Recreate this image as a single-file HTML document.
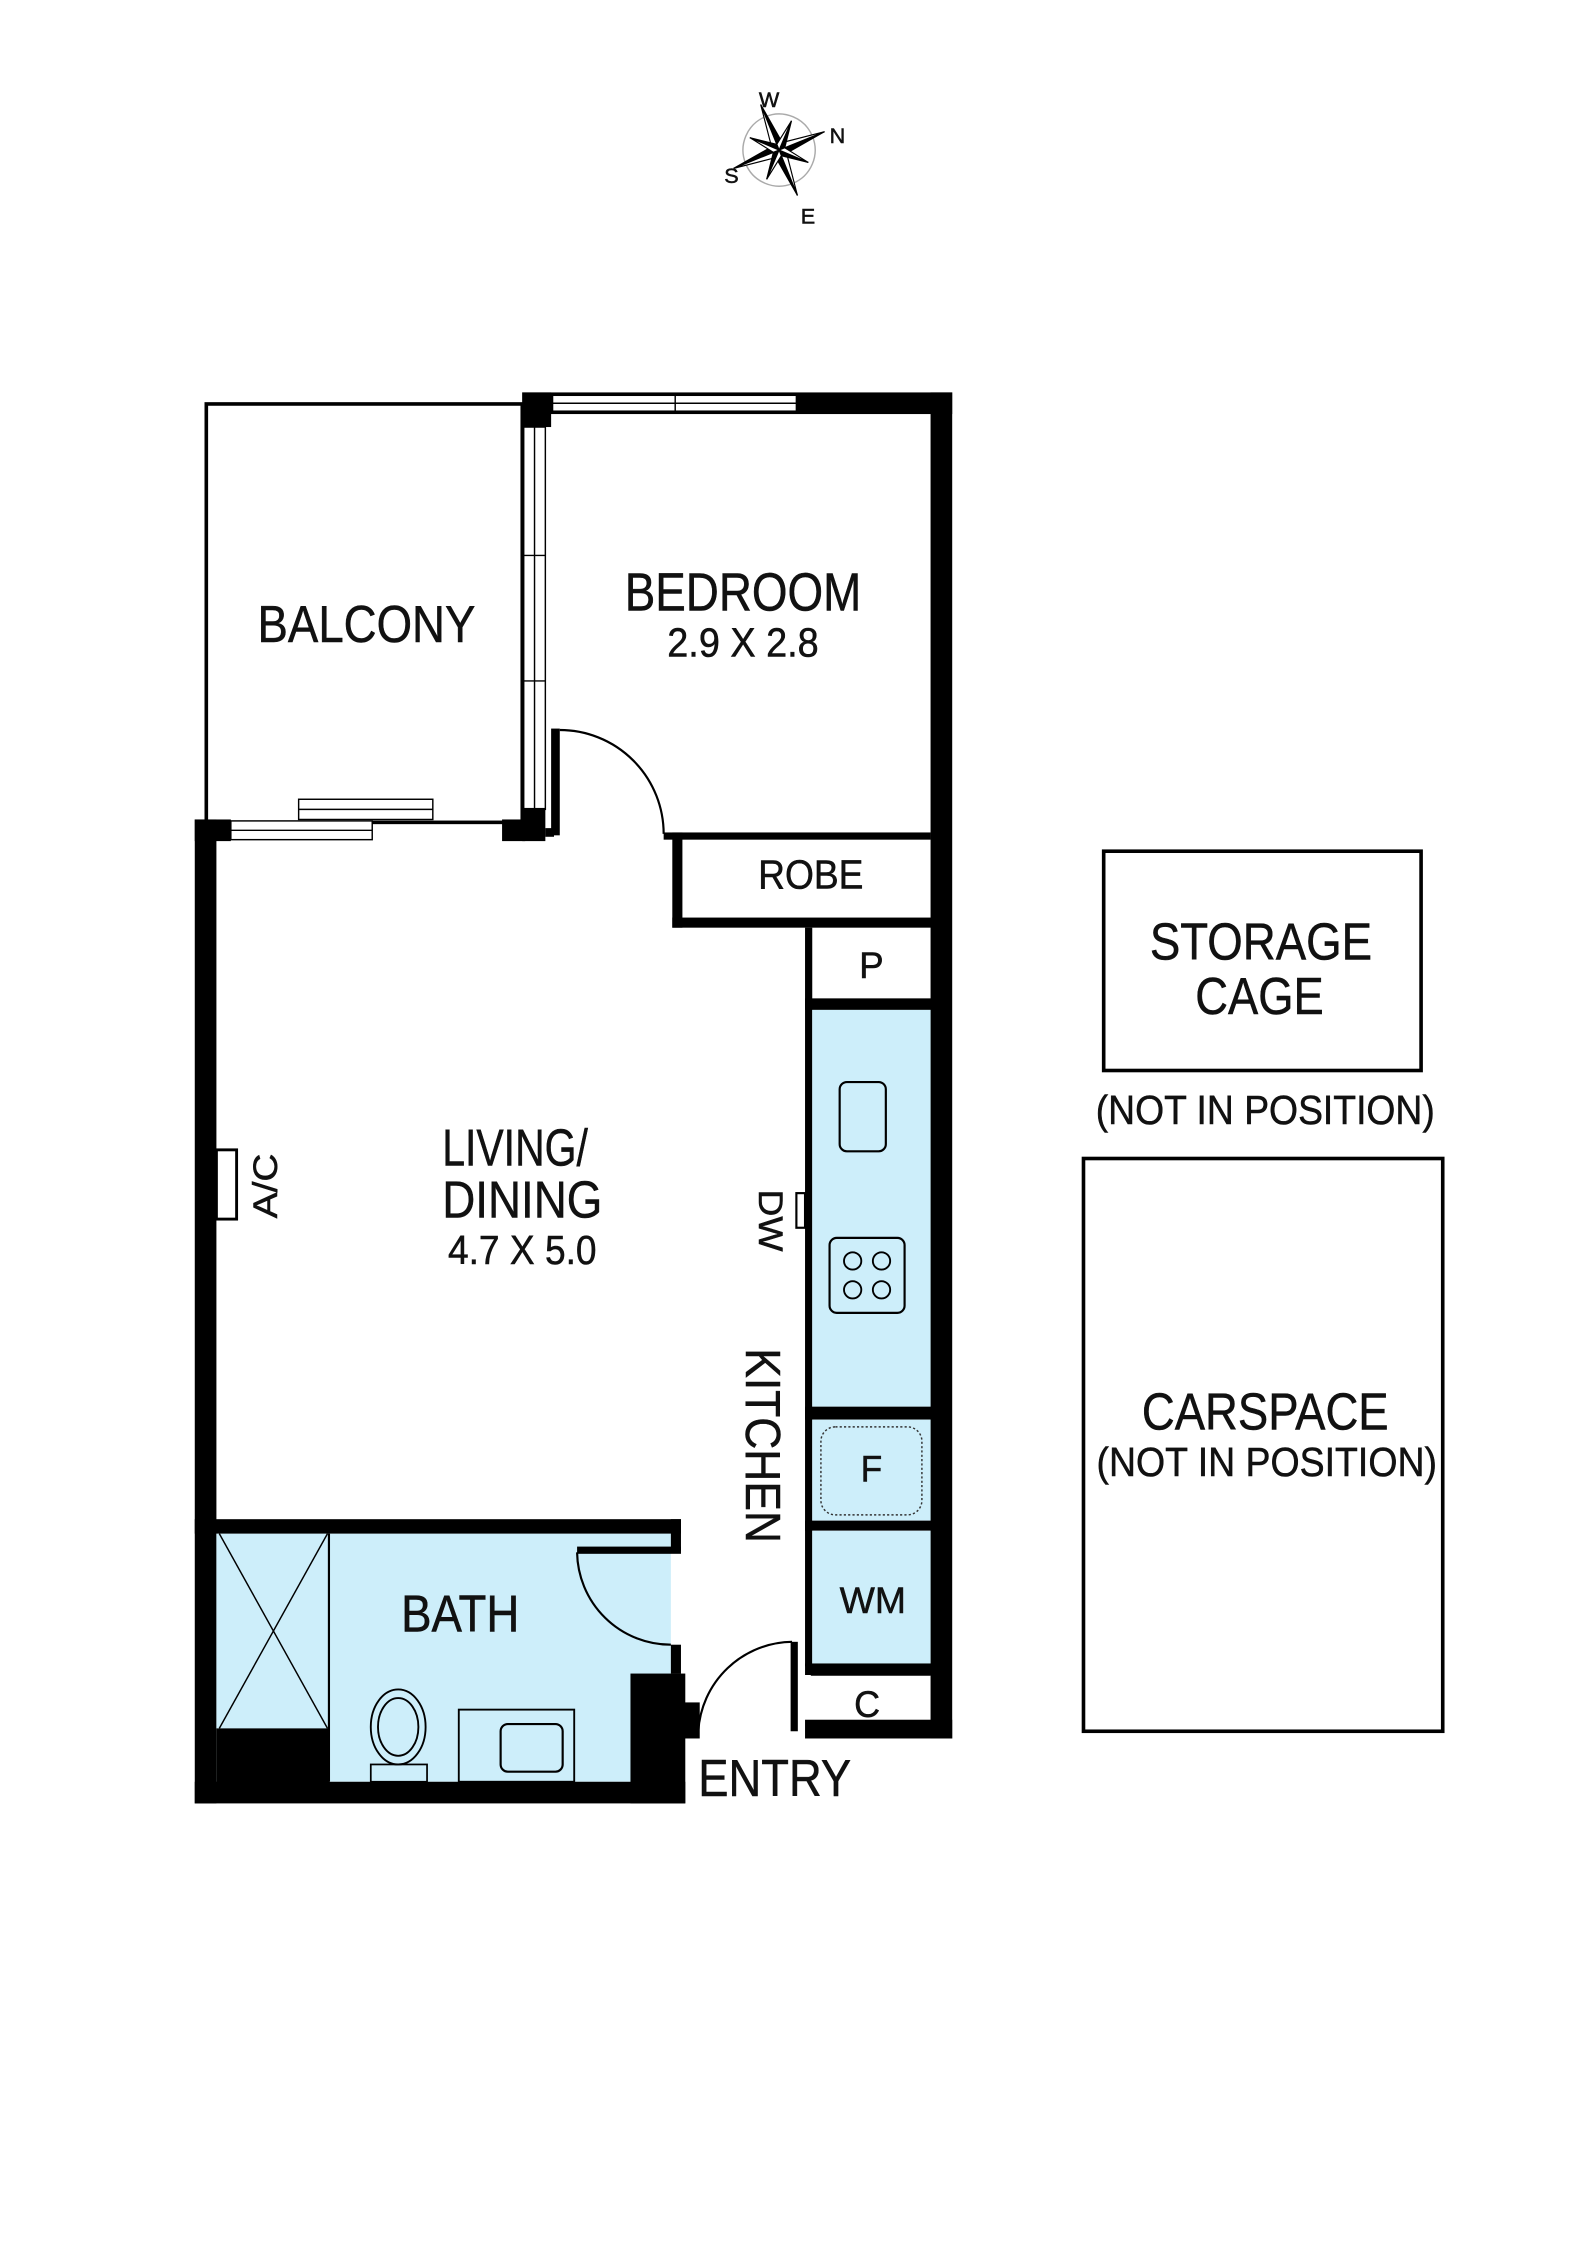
<!DOCTYPE html>
<html><head><meta charset="utf-8"><style>
html,body{margin:0;padding:0;background:#fff;}
svg{display:block;}
text{font-family:"Liberation Sans",sans-serif;fill:#111;stroke:#111;stroke-width:0.35;}
</style></head><body>
<svg width="1587" height="2243" viewBox="0 0 1100 1554.7" xmlns="http://www.w3.org/2000/svg">
<rect width="1100" height="1554.7" fill="#fff"/>
<!-- compass -->
<g transform="translate(540,104) rotate(-22)">
<circle r="25" fill="none" stroke="#aaa" stroke-width="1"/>
<g fill="#000" stroke="#000" stroke-width="0.8">
<polygon points="0,-34 4,-4 0,0"/><polygon points="0,-34 -4,-4 0,0" fill="#fff"/>
<polygon points="34,0 4,4 0,0"/><polygon points="34,0 4,-4 0,0" fill="#fff"/>
<polygon points="0,34 -4,4 0,0"/><polygon points="0,34 4,4 0,0" fill="#fff"/>
<polygon points="-34,0 -4,-4 0,0"/><polygon points="-34,0 -4,4 0,0" fill="#fff"/>
<g transform="rotate(45)">
<polygon points="0,-22 3,-3 0,0"/><polygon points="0,-22 -3,-3 0,0" fill="#fff"/>
<polygon points="22,0 3,3 0,0"/><polygon points="22,0 3,-3 0,0" fill="#fff"/>
<polygon points="0,22 -3,3 0,0"/><polygon points="0,22 3,3 0,0" fill="#fff"/>
<polygon points="-22,0 -3,-3 0,0"/><polygon points="-22,0 -3,3 0,0" fill="#fff"/>
</g></g></g>
<text x="526" y="74" font-size="15">W</text>
<text x="575" y="99" font-size="15">N</text>
<text x="502" y="127" font-size="15">S</text>
<text x="555" y="155" font-size="15">E</text>

<!-- balcony -->
<rect x="143" y="280" width="219" height="290" fill="none" stroke="#000" stroke-width="2.5"/>
<!-- bedroom top wall -->
<rect x="362" y="272" width="298" height="15" fill="#000"/>
<rect x="383" y="274" width="169" height="11" fill="#fff" stroke="#000" stroke-width="1"/>
<line x1="383" y1="279.5" x2="552" y2="279.5" stroke="#000" stroke-width="1"/>
<line x1="468" y1="274" x2="468" y2="285" stroke="#000" stroke-width="1"/>
<!-- right wall -->
<rect x="645" y="272" width="15" height="933" fill="#000"/>
<!-- left partition bedroom -->
<rect x="362" y="272" width="20" height="24" fill="#000"/>
<rect x="363" y="296" width="15" height="265" fill="#fff" stroke="#000" stroke-width="1"/>
<line x1="370.5" y1="296" x2="370.5" y2="561" stroke="#000" stroke-width="1"/>
<line x1="363" y1="385" x2="378" y2="385" stroke="#000" stroke-width="1"/>
<line x1="363" y1="472" x2="378" y2="472" stroke="#000" stroke-width="1"/>
<rect x="362" y="560" width="16" height="23" fill="#000"/>
<rect x="348" y="568" width="16" height="15" fill="#000"/>
<rect x="378" y="574" width="6" height="6" fill="#000"/>
<!-- bedroom door -->
<rect x="382" y="505" width="6" height="74" fill="#000"/>
<path d="M388,506 A72,72 0 0 1 460,578" fill="none" stroke="#000" stroke-width="1.5"/>
<!-- living outer left wall and top -->
<rect x="135" y="568" width="15" height="682" fill="#000"/>
<rect x="135" y="568" width="25" height="15" fill="#000"/>
<rect x="160" y="569" width="98" height="13" fill="#fff" stroke="#000" stroke-width="1"/>
<line x1="160" y1="575.5" x2="258" y2="575.5" stroke="#000" stroke-width="1"/>
<line x1="258" y1="570" x2="348" y2="570" stroke="#000" stroke-width="1.5"/>
<rect x="207" y="554" width="93" height="14" fill="#fff" stroke="#000" stroke-width="1"/>
<line x1="207" y1="561" x2="300" y2="561" stroke="#000" stroke-width="1"/>
<!-- robe -->
<rect x="460" y="577" width="185" height="5" fill="#000"/>
<rect x="466" y="577" width="7" height="66" fill="#000"/>
<rect x="466" y="636" width="186" height="7" fill="#000"/>
<text x="562" y="616" font-size="28" text-anchor="middle" textLength="73" lengthAdjust="spacingAndGlyphs">ROBE</text>
<!-- kitchen column -->
<rect x="558" y="643" width="5" height="512" fill="#000"/>
<text x="604" y="678" font-size="26" text-anchor="middle" textLength="17" lengthAdjust="spacingAndGlyphs">P</text>
<rect x="558" y="692" width="94" height="8" fill="#000"/>
<rect x="563" y="700" width="82" height="275" fill="#cdeefa"/>
<rect x="558" y="975" width="94" height="9" fill="#000"/>
<rect x="563" y="984" width="82" height="70" fill="#cdeefa"/>
<rect x="569" y="989" width="70" height="61" rx="10" fill="none" stroke="#333" stroke-width="1" stroke-dasharray="1.5,1.5"/>
<rect x="558" y="1054" width="94" height="7" fill="#000"/>
<rect x="563" y="1061" width="82" height="92" fill="#cdeefa"/>
<rect x="558" y="1153" width="94" height="8" fill="#000"/>
<rect x="558" y="1192" width="102" height="13" fill="#000"/>
<line x1="562" y1="1161" x2="645" y2="1161" stroke="#000"/>
<rect x="582" y="750" width="32" height="48" rx="5" fill="none" stroke="#000" stroke-width="1.5"/>
<rect x="575" y="858" width="52" height="52" rx="5" fill="none" stroke="#000" stroke-width="1.5"/>
<circle cx="591" cy="874" r="6" fill="none" stroke="#000" stroke-width="1.3"/>
<circle cx="611" cy="874" r="6" fill="none" stroke="#000" stroke-width="1.3"/>
<circle cx="591" cy="894" r="6" fill="none" stroke="#000" stroke-width="1.3"/>
<circle cx="611" cy="894" r="6" fill="none" stroke="#000" stroke-width="1.3"/>
<text x="604" y="1027" font-size="26" text-anchor="middle" textLength="15" lengthAdjust="spacingAndGlyphs">F</text>
<text x="605" y="1118" font-size="26" text-anchor="middle" textLength="46" lengthAdjust="spacingAndGlyphs">WM</text>
<text x="601" y="1190" font-size="26" text-anchor="middle" textLength="18" lengthAdjust="spacingAndGlyphs">C</text>
<!-- DW -->
<rect x="552" y="827" width="6" height="24" fill="#fff" stroke="#000" stroke-width="1.5"/>
<text transform="translate(526,846) rotate(90)" font-size="24" text-anchor="middle" textLength="43" lengthAdjust="spacingAndGlyphs">DW</text>
<text transform="translate(517,1002) rotate(90)" font-size="34" text-anchor="middle" textLength="135" lengthAdjust="spacingAndGlyphs">KITCHEN</text>
<!-- A/C -->
<rect x="150" y="797" width="14" height="48" fill="#fff" stroke="#000" stroke-width="2"/>
<text transform="translate(192,822) rotate(-90)" font-size="24" text-anchor="middle" textLength="45" lengthAdjust="spacingAndGlyphs">A/C</text>
<!-- living text -->
<text x="357" y="808" font-size="36" text-anchor="middle" textLength="101" lengthAdjust="spacingAndGlyphs">LIVING/</text>
<text x="362" y="844" font-size="36" text-anchor="middle" textLength="111" lengthAdjust="spacingAndGlyphs">DINING</text>
<text x="362" y="876" font-size="28" text-anchor="middle" textLength="103" lengthAdjust="spacingAndGlyphs">4.7 X 5.0</text>
<!-- bath -->
<rect x="150" y="1063" width="315" height="172" fill="#cdeefa"/>
<rect x="437" y="1063" width="28" height="12" fill="#cdeefa"/>
<rect x="135" y="1053" width="337" height="10" fill="#000"/>
<rect x="465" y="1053" width="7" height="22" fill="#000"/>
<rect x="400" y="1072" width="72" height="5" fill="#000"/>
<path d="M400,1076 A65,65 0 0 0 465,1140" fill="none" stroke="#000" stroke-width="1.5"/>
<rect x="465" y="1140" width="7" height="20" fill="#000"/>
<rect x="437" y="1160" width="38" height="90" fill="#000"/>
<rect x="150" y="1198" width="78" height="40" fill="#000"/>
<line x1="228" y1="1063" x2="228" y2="1235" stroke="#000" stroke-width="1.5"/>
<line x1="152" y1="1063" x2="227" y2="1198" stroke="#000" stroke-width="1"/>
<line x1="227" y1="1063" x2="152" y2="1198" stroke="#000" stroke-width="1"/>
<rect x="135" y="1235" width="340" height="15" fill="#000"/>
<ellipse cx="276" cy="1197" rx="19" ry="26" fill="none" stroke="#000" stroke-width="1.3"/>
<ellipse cx="276" cy="1197" rx="14" ry="20" fill="none" stroke="#000" stroke-width="1.3"/>
<rect x="257" y="1223" width="39" height="12" fill="none" stroke="#000" stroke-width="1.2"/>
<rect x="318" y="1185" width="80" height="50" fill="none" stroke="#000" stroke-width="1.3"/>
<rect x="347" y="1195" width="43" height="33" rx="5" fill="none" stroke="#000" stroke-width="1.5"/>
<text x="319" y="1131" font-size="36" text-anchor="middle" textLength="82" lengthAdjust="spacingAndGlyphs">BATH</text>
<!-- entry -->
<rect x="472" y="1180" width="13" height="25" fill="#000"/>
<rect x="548" y="1138" width="5" height="62" fill="#000"/>
<path d="M484,1200 A66,66 0 0 1 549,1138" fill="none" stroke="#000" stroke-width="1.5"/>
<text x="537" y="1245" font-size="36" text-anchor="middle" textLength="106" lengthAdjust="spacingAndGlyphs">ENTRY</text>
<!-- labels -->
<text x="254" y="445" font-size="36" text-anchor="middle" textLength="151" lengthAdjust="spacingAndGlyphs">BALCONY</text>
<text x="515" y="423" font-size="37" text-anchor="middle" textLength="164" lengthAdjust="spacingAndGlyphs">BEDROOM</text>
<text x="515" y="455" font-size="28" text-anchor="middle" textLength="105" lengthAdjust="spacingAndGlyphs">2.9 X 2.8</text>
<!-- storage -->
<rect x="765" y="590" width="220" height="152" fill="none" stroke="#000" stroke-width="2.5"/>
<text x="874" y="665" font-size="36" text-anchor="middle" textLength="154" lengthAdjust="spacingAndGlyphs">STORAGE</text>
<text x="873" y="703" font-size="36" text-anchor="middle" textLength="89" lengthAdjust="spacingAndGlyphs">CAGE</text>
<text x="877" y="779" font-size="28" text-anchor="middle" textLength="235" lengthAdjust="spacingAndGlyphs">(NOT IN POSITION)</text>
<rect x="751" y="803" width="249" height="397" fill="none" stroke="#000" stroke-width="2.5"/>
<text x="877" y="991" font-size="36" text-anchor="middle" textLength="171" lengthAdjust="spacingAndGlyphs">CARSPACE</text>
<text x="878" y="1023" font-size="28" text-anchor="middle" textLength="236" lengthAdjust="spacingAndGlyphs">(NOT IN POSITION)</text>
</svg>
</body></html>
